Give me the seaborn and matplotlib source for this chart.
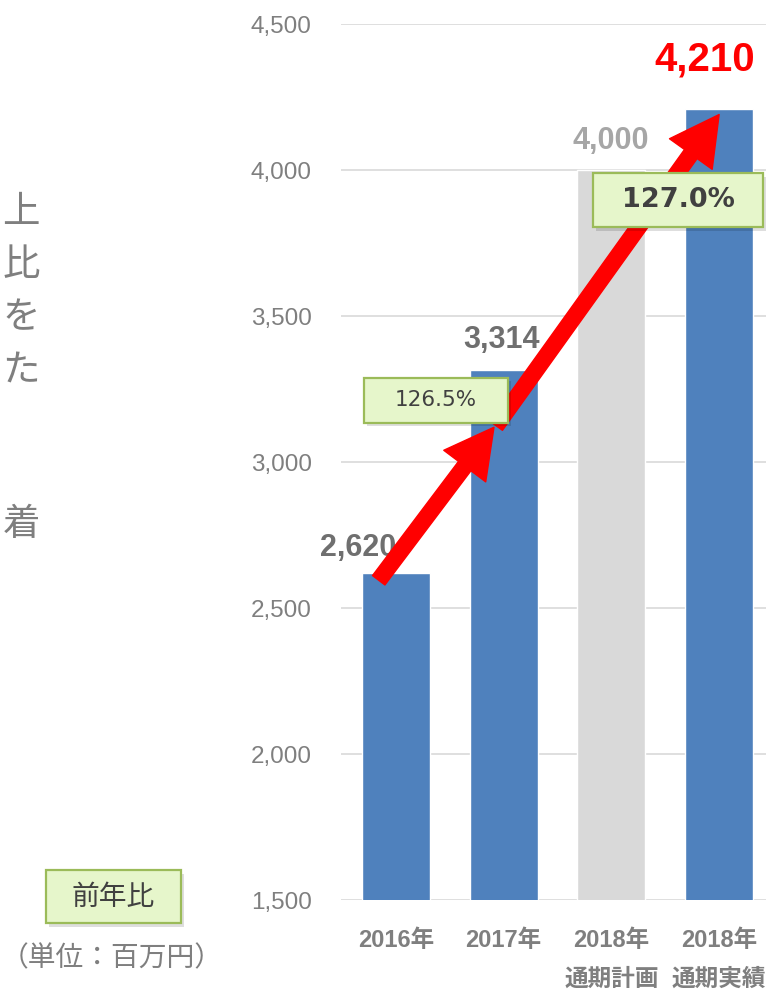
import matplotlib
matplotlib.use("Agg")
import matplotlib.pyplot as plt
import seaborn as sns
import pandas as pd
from matplotlib.patches import Rectangle, FancyArrowPatch

# ---- data ----
categories = ["2016年", "2017年", "2018年\n通期計画", "2018年\n通期実績"]
values = [2620, 3314, 4000, 4210]
value_labels = ["2,620", "3,314", "4,000", "4,210"]
growth_labels = ["126.5%", "127.0%"]
yticks = [1500, 2000, 2500, 3000, 3500, 4000, 4500]
ytick_labels = ["1,500", "2,000", "2,500", "3,000", "3,500", "4,000", "4,500"]
left_chars = ["上", "比", "を", "た", "", "着"]

bar_colors = ["#4f81bd", "#4f81bd", "#d9d9d9", "#4f81bd"]
label_colors = ["#6f6f6f", "#6f6f6f", "#a6a6a6", "#ff0000"]
label_sizes = [22, 22, 22, 29]

sns.set_theme(style="white")
plt.rcParams["font.family"] = ["Liberation Sans", "Noto Sans CJK JP", "DejaVu Sans"]

W, H = 766, 994
fig = plt.figure(figsize=(W / 100, H / 100), dpi=100)
ax = fig.add_axes([341 / W, 1 - 900 / H, (766 - 341) / W, (900 - 24) / H])

df = pd.DataFrame({"cat": categories, "val": values})
sns.barplot(data=df, x="cat", y="val", hue="cat", palette=bar_colors,
            legend=False, width=0.63, ax=ax, saturation=1)

ax.set_ylim(1500, 4500)
ax.set_xlim(-0.51, 3.435)
ax.set_yticks(yticks)
ax.set_yticklabels(ytick_labels, fontsize=17.5, color="#7f7f7f")
ax.set_xticks(range(len(categories)))
ax.set_xticklabels(categories, fontsize=17, color="#7f7f7f", fontweight="bold",
                   linespacing=1.88)
ax.tick_params(axis="y", length=0, pad=21)
ax.tick_params(axis="x", length=0, pad=21)
ax.set_xlabel("")
ax.set_ylabel("")
for s in ax.spines.values():
    s.set_visible(False)
ax.yaxis.grid(True, color="#d9d9d9", linewidth=1.2)
ax.set_axisbelow(True)

# value labels
offsets = [(-0.35, 85), (-0.02, 104), (-0.01, 99), (-0.13, 167)]
for i, (v, lab) in enumerate(zip(values, value_labels)):
    dx, dy = offsets[i]
    ax.text(i + dx, v + dy, lab, ha="center", va="center", fontsize=label_sizes[i],
            fontweight="bold", color=label_colors[i], family="Liberation Sans", zorder=5)

# red arrows
arrow_kw = dict(arrowstyle="simple,head_length=2.5,head_width=2.7,tail_width=0.8",
                color="#ff0000", mutation_scale=14, shrinkA=0, shrinkB=0, zorder=6)
a1 = FancyArrowPatch((0 - 0.16, values[0] - 25), (1 - 0.09, values[1] - 195), **arrow_kw)
a2 = FancyArrowPatch((1 - 0.07, values[1] - 190), (3 - 0.0, values[3] - 20), **arrow_kw)
ax.add_patch(a1)
ax.add_patch(a2)

# growth boxes
def growth_box(cx, cy, w, h, text, size, weight):
    sh = Rectangle((cx - w / 2 + 0.03, cy - h / 2 - 12), w, h, facecolor="#000000",
                   alpha=0.13, edgecolor="none", zorder=7, clip_on=False)
    ax.add_patch(sh)
    r = Rectangle((cx - w / 2, cy - h / 2), w, h, facecolor="#e6f6cb",
                  edgecolor="#9bbb59", linewidth=1.6, zorder=8, clip_on=False)
    ax.add_patch(r)
    ax.text(cx, cy, text, ha="center", va="center", fontsize=size, fontweight=weight,
            color="#404040", family="DejaVu Sans", zorder=9)

growth_box(0.37, 3212, 1.333, 154, growth_labels[0], 15.5, "normal")
growth_box(2.62, 3897, 1.58, 185, growth_labels[1], 19.5, "bold")

# left side text fragments
ys = [212, 265, 318, 371, 424, 525]
for ch, y in zip(left_chars, ys):
    if ch:
        fig.text(40 / W, 1 - y / H, ch, ha="right", va="center", fontsize=27,
                 color="#7f7f7f", family=["Noto Sans CJK JP"])

# 前年比 legend box
bx0, by0, bx1, by1 = 46, 870, 181, 923
fig.add_artist(Rectangle((bx0 / W + 3 / W, 1 - (by1 + 4) / H), (bx1 - bx0) / W, (by1 - by0) / H,
                         transform=fig.transFigure, facecolor="#000000", alpha=0.13,
                         edgecolor="none"))
fig.add_artist(Rectangle((bx0 / W, 1 - by1 / H), (bx1 - bx0) / W, (by1 - by0) / H,
                         transform=fig.transFigure, facecolor="#e6f6cb",
                         edgecolor="#9bbb59", linewidth=1.6))
fig.text((bx0 + bx1) / 2 / W, 1 - (by0 + by1) / 2 / H, "前年比", ha="center", va="center",
         fontsize=20, color="#404040", family=["Noto Sans CJK JP"])
fig.text(112 / W, 1 - 958 / H, "（単位：百万円）", ha="center", va="center",
         fontsize=20, color="#7f7f7f", family=["Noto Sans CJK JP"])

fig.savefig("out.png", dpi=100)
